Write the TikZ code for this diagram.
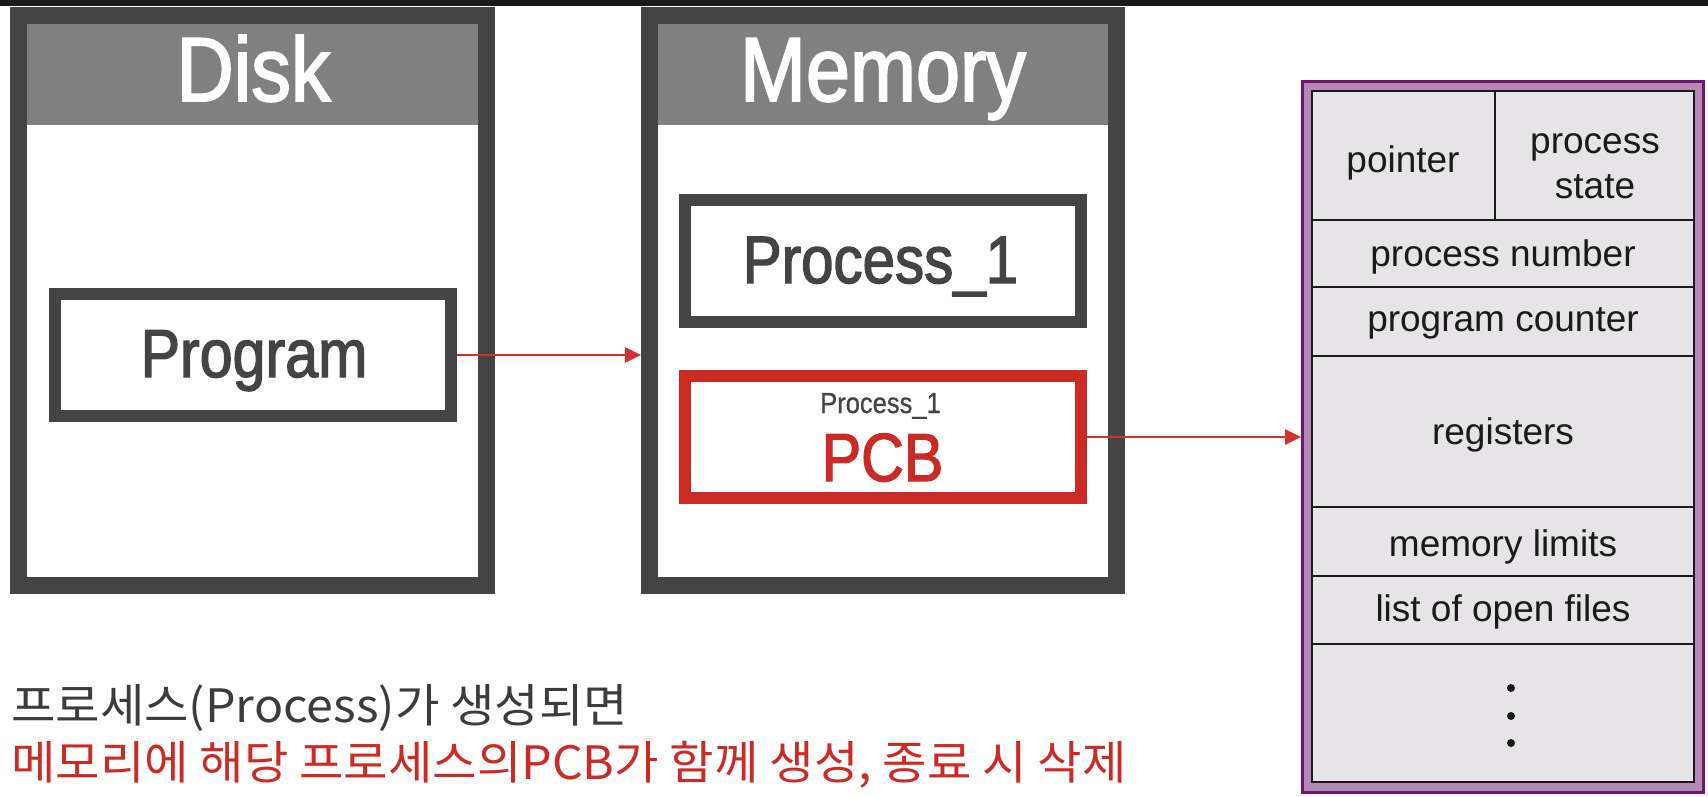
\documentclass[tikz,border=0pt]{standalone}
\usepackage{fontspec}
\setmainfont{Liberation Sans}
\newfontfamily\narrowfont[FakeStretch=0.87,FakeBold=2]{Liberation Sans}
\newfontfamily\narrowlight[FakeStretch=0.88,FakeBold=0.8]{Liberation Sans}
\newfontfamily\krfont[FakeStretch=1.05]{Noto Sans CJK KR}
\usetikzlibrary{arrows.meta}
\definecolor{dgray}{HTML}{444444}
\definecolor{hgray}{HTML}{808080}
\definecolor{pcbred}{HTML}{CC2B25}
\definecolor{arrred}{HTML}{D6302C}
\definecolor{ppdark}{HTML}{6E1670}
\definecolor{pplight}{HTML}{B48AB4}
\definecolor{cellgray}{HTML}{E6E4E6}
\definecolor{txtgray}{HTML}{3C3C3C}
\definecolor{celltxt}{HTML}{1A1A1A}
\begin{document}
\begin{tikzpicture}[x=1pt,y=-1pt,
  bigbox/.style={draw=dgray, line width=17pt, rectangle, inner sep=0pt, minimum width=468pt, minimum height=570pt},
  headbox/.style={fill=hgray, rectangle, inner sep=0pt, minimum width=451pt, minimum height=102pt},
  headtxt/.style={text=white, inner sep=0pt, anchor=base, font=\narrowfont\fontsize{91}{100}\selectfont},
  midbox/.style={draw=dgray, line width=12pt, rectangle, inner sep=0pt, minimum width=396pt, minimum height=122pt},
  midtxt/.style={text=dgray, inner sep=0pt, anchor=base, font=\narrowfont\fontsize{68}{76}\selectfont},
  conn/.style={draw=arrred, line width=2.5pt, -{Triangle[length=16pt,width=15pt]}},
  celltext/.style={text=celltxt, inner sep=0pt, font=\fontsize{37}{45}\selectfont},
  gridline/.style={draw=celltxt, line width=2.5pt},
  krtxt/.style={inner sep=0pt, anchor=base west, font=\krfont\fontsize{46}{52}\selectfont}
]
\useasboundingbox (0,0) rectangle (1708,796);
% top strip
\fill[celltxt] (0,0) rectangle (1708,6);

% Disk
\node[headbox] (diskhead) at (252.5,74) {};
\node[bigbox] (disk) at (252.5,300.5) {};
\node[headtxt] (disktxt) at (253.5,101) {Disk};
\node[midbox] (prog) at (253,355) {};
\node[midtxt] (progtxt) at (254,377) {Program};

% Memory
\node[headbox] (memhead) at (883,74) {};
\node[bigbox, minimum width=467pt] (mem) at (883,300.5) {};
\node[headtxt] (memtxt) at (883,101) {Memory};
\node[midbox] (proc) at (883,261) {};
\node[midtxt, font=\narrowfont\fontsize{67}{75}\selectfont] (proctxt) at (880.5,283) {Process\_1};
\node[midbox, draw=pcbred] (pcb) at (883,437) {};
\node[midtxt, font=\narrowlight\fontsize{29}{34}\selectfont] (pcbsub) at (880.5,413) {Process\_1};
\node[midtxt, text=pcbred] (pcbtxt) at (882.5,481) {PCB};

% PCB table
\node[draw=ppdark, fill=pplight, line width=3pt, rectangle, inner sep=0pt, minimum width=401pt, minimum height=711pt] (tbl) at (1503,437) {};
\node[draw=celltxt, fill=cellgray, line width=2.5pt, rectangle, inner sep=0pt, minimum width=382pt, minimum height=691pt] (tblin) at (1503,436.5) {};
\draw[gridline] (1312,220) -- (1694,220);
\draw[gridline] (1312,287) -- (1694,287);
\draw[gridline] (1312,356) -- (1694,356);
\draw[gridline] (1312,507) -- (1694,507);
\draw[gridline] (1312,576) -- (1694,576);
\draw[gridline] (1312,644) -- (1694,644);
\draw[gridline] (1495,91) -- (1495,220);
\node[celltext, anchor=base] (cpointer) at (1403,172) {pointer};
\node[celltext, align=center] (cstate) at (1595,166) {process\\state};
\node[celltext, anchor=base] (cnumber) at (1503,266) {process number};
\node[celltext, anchor=base] (ccounter) at (1503,331) {program counter};
\node[celltext, anchor=base] (cregs) at (1503,444) {registers};
\node[celltext, anchor=base] (climits) at (1503,556) {memory limits};
\node[celltext, anchor=base] (cfiles) at (1503,621) {list of open files};
\fill[celltxt] (1511,688) circle (4);
\fill[celltxt] (1511,716) circle (4);
\fill[celltxt] (1511,743) circle (4);

% connectors
\draw[conn] (prog.east) -- (prog.east -| mem.west);
\draw[conn] (pcb.east) -- (pcb.east -| tbl.west);

% caption
\node[krtxt, text=txtgray] (cap1) at (11,722) {프로세스(Process)가 생성되면};
\node[krtxt, text=pcbred] (cap2) at (11,779) {메모리에 해당 프로세스의PCB가 함께 생성, 종료 시 삭제};
\end{tikzpicture}
\end{document}
